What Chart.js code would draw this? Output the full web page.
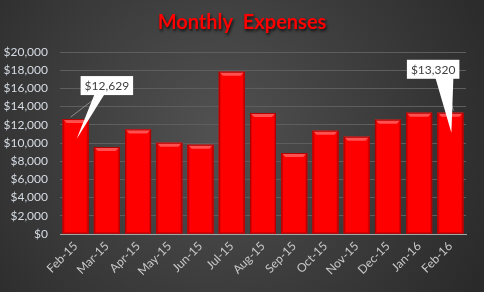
<!DOCTYPE html>
<html>
<head>
<meta charset="utf-8">
<script src="https://cdn.jsdelivr.net/npm/chart.js@4"></script>
<style>
  html, body { margin: 0; padding: 0; background: #3a3a3a; }
  #wrap { width: 484px; height: 292px; }
</style>
</head>
<body>
<div id="wrap"><canvas id="myChart" width="484" height="292"></canvas></div>
<script>
const months = ["Feb-15", "Mar-15", "Apr-15", "May-15", "Jun-15", "Jul-15", "Aug-15", "Sep-15", "Oct-15", "Nov-15", "Dec-15", "Jan-16", "Feb-16"]
const expenses = [12629, 9560, 11495, 10030, 9810, 17835, 13300, 8900, 11350, 10690, 12560, 13330, 13320]
const yTicks = [0, 2000, 4000, 6000, 8000, 10000, 12000, 14000, 16000, 18000, 20000]
const chartTitle = "Monthly  Expenses"

// which bars get a callout, and where the box sits relative to the bar
const callouts = [
  { index: 0, dx: 5, dy: -43, anchor: "left" },
  { index: 12, dx: 9, dy: -53, anchor: "right" }
]

const money = (v) => "$" + v.toLocaleString("en-US")

const ctx = document.getElementById("myChart")

const backgroundPlugin = {
  id: "bg",
  beforeDraw(chart) {
    const c = chart.ctx
    const w = chart.width, h = chart.height
    const g = c.createRadialGradient(w * 0.45, h * 0.45, 10, w * 0.45, h * 0.45, w * 0.62)
    g.addColorStop(0, "#505050")
    g.addColorStop(1, "#2a2a2a")
    c.save()
    c.fillStyle = g
    c.fillRect(0, 0, w, h)
    c.restore()
  },
  afterDraw(chart) {
    const c = chart.ctx
    c.save()
    c.font = "bold 20px Lato"
    c.textAlign = "center"
    c.textBaseline = "middle"
    c.shadowColor = "rgba(0,0,0,0.8)"
    c.shadowOffsetX = 1
    c.shadowOffsetY = 2
    c.shadowBlur = 3
    c.fillStyle = "#ff0000"
    c.fillText(chartTitle, chart.width / 2, 23)
    c.restore()
  }
}

const bevelPlugin = {
  id: "bevel",
  afterDatasetsDraw(chart) {
    const c = chart.ctx
    const bars = chart.getDatasetMeta(0).data
    c.save()
    bars.forEach((bar) => {
      const l = bar.x - bar.width / 2, r = bar.x + bar.width / 2
      const t = bar.y, b = bar.base
      const e = 4
      // top bevel
      c.fillStyle = "#ff5050"
      c.beginPath()
      c.moveTo(l, t); c.lineTo(r, t); c.lineTo(r - e, t + e); c.lineTo(l + e, t + e)
      c.closePath(); c.fill()
      // side bevels
      c.fillStyle = "#e00000"
      c.beginPath()
      c.moveTo(l, t); c.lineTo(l + 2, t + 2); c.lineTo(l + 2, b); c.lineTo(l, b)
      c.closePath(); c.fill()
      c.beginPath()
      c.moveTo(r, t); c.lineTo(r - 2, t + 2); c.lineTo(r - 2, b); c.lineTo(r, b)
      c.closePath(); c.fill()
      c.strokeStyle = "#b00000"
      c.lineWidth = 1
      c.strokeRect(l + 0.5, t + 0.5, bar.width - 1, b - t - 1)
    })
    c.restore()
  }
}

const calloutPlugin = {
  id: "callout",
  afterDatasetsDraw(chart) {
    const c = chart.ctx
    const bars = chart.getDatasetMeta(0).data
    c.save()
    c.font = "12px Lato"
    callouts.forEach((co) => {
      const bar = bars[co.index]
      const text = money(expenses[co.index])
      const bw = c.measureText(text).width + 8
      const bh = 19
      const bx = co.anchor === "left" ? bar.x + co.dx : bar.x + co.dx - bw
      const by = bar.y + co.dy
      const tipX = bar.x + 1
      const tipY = bar.y + 20
      let p1, p2
      if (co.anchor === "left") { p1 = bx + 14; p2 = bx + 24 } else { p1 = bx + bw - 24; p2 = bx + bw - 6 }
      // leader line
      c.strokeStyle = "rgba(160,160,160,0.8)"
      c.lineWidth = 1
      c.beginPath()
      c.moveTo(tipX - (co.anchor === "left" ? 6 : -2), bar.y - 2)
      c.lineTo((p1 + p2) / 2, by + bh)
      c.stroke()
      // pointer
      c.fillStyle = "#ffffff"
      c.beginPath()
      c.moveTo(p1, by + bh - 1); c.lineTo(p2, by + bh - 1); c.lineTo(tipX, tipY)
      c.closePath(); c.fill()
      c.fillRect(bx, by, bw, bh)
      c.fillStyle = "#404040"
      c.textAlign = "center"
      c.textBaseline = "middle"
      c.fillText(text, bx + bw / 2, by + bh / 2 + 1)
    })
    c.restore()
  }
}

new Chart(ctx, {
  type: "bar",
  data: {
    labels: months,
    datasets: [{
      label: "Expenses",
      data: expenses,
      backgroundColor: "#ff0000",
      borderWidth: 0,
      barPercentage: 0.83,
      categoryPercentage: 1
    }]
  },
  options: {
    responsive: false,
    animation: false,
    layout: { padding: { top: 52, right: 18, left: 0, bottom: 0 } },
    plugins: {
      legend: { display: false },
      tooltip: { enabled: false }
    },
    scales: {
      x: {
        grid: { display: false, drawTicks: false },
        border: { color: "#a6a6a6", width: 1 },
        ticks: {
          color: "#c8c8c8",
          font: { family: "Lato", size: 12 },
          minRotation: 45,
          maxRotation: 45,
          padding: 5
        },
        afterFit(scale) { scale.height = 58 }
      },
      y: {
        min: 0,
        max: 20000,
        afterBuildTicks(scale) { scale.ticks = yTicks.map((v) => ({ value: v })) },
        grid: { color: "#5e5e5e", drawTicks: false },
        border: { display: false },
        ticks: {
          color: "#d6dce4",
          font: { family: "Lato", size: 12 },
          padding: 12,
          callback: (v) => money(v)
        },
        afterFit(scale) { scale.width = 60 }
      }
    }
  },
  plugins: [backgroundPlugin, bevelPlugin, calloutPlugin]
})
</script>
</body>
</html>
